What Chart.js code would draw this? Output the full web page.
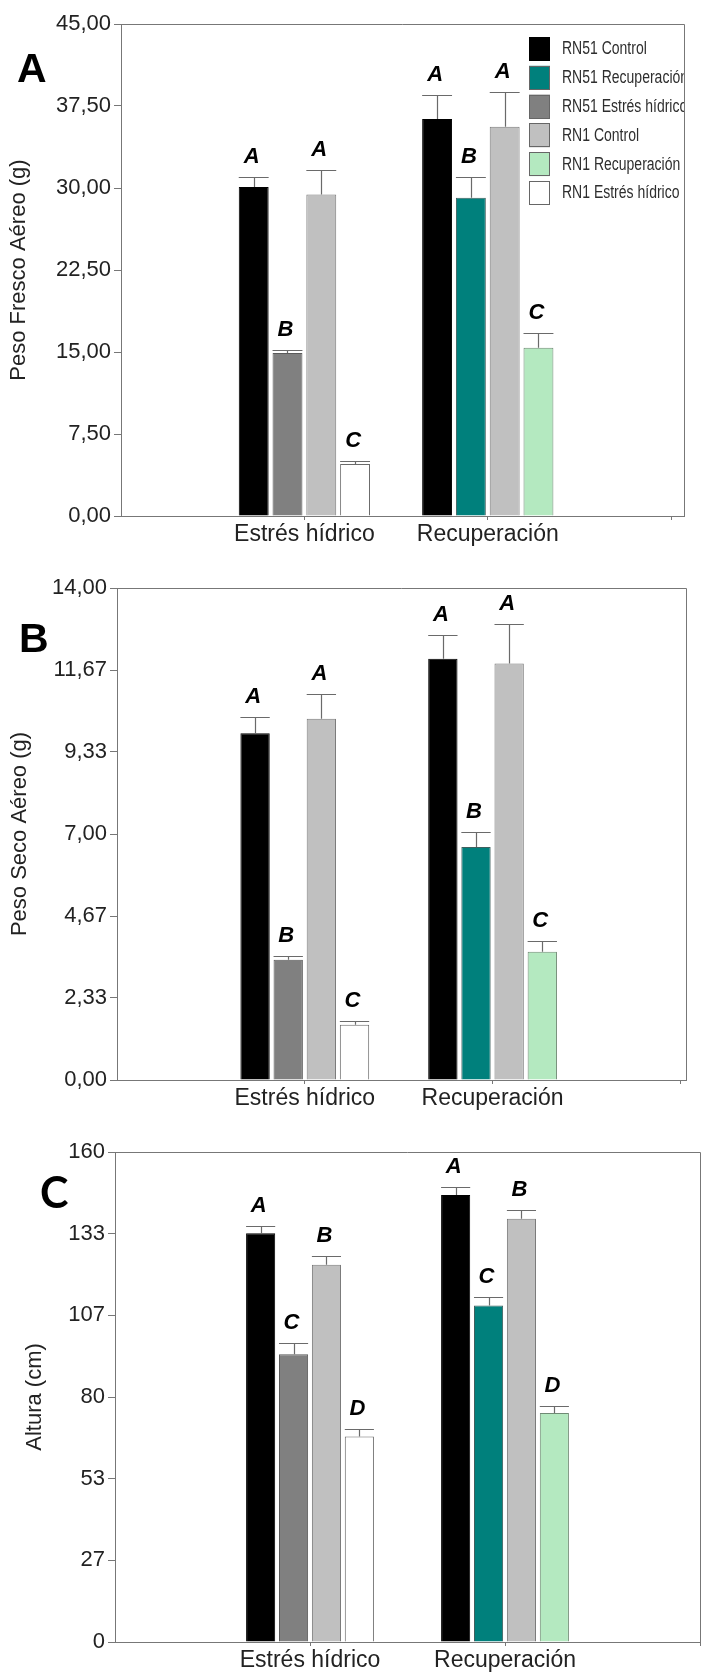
<!DOCTYPE html>
<html lang="es">
<head>
<meta charset="utf-8">
<title>Peso fresco, peso seco y altura</title>
<script src="https://cdn.jsdelivr.net/npm/chart.js@4.4.1/dist/chart.umd.min.js"></script>
<style>
  html, body { margin: 0; padding: 0; background: #fff; }
  body { width: 701px; height: 1675px; position: relative; overflow: hidden; }
  .panel { position: absolute; left: 0; }
  .panel canvas { display: block; }
</style>
</head>
<body>
<div class="panel" style="top:0px"><canvas id="cFresco" width="701" height="560"></canvas></div>
<div class="panel" style="top:560px"><canvas id="cSeco" width="701" height="555"></canvas></div>
<div class="panel" style="top:1115px"><canvas id="cAltura" width="701" height="560"></canvas></div>

<script>
// Tratamientos del eje x y series (genotipo + condición)
const categorias = ['Estrés hídrico', 'Recuperación'];
const series = ['RN51 Control', 'RN51 Recuperación', 'RN51 Estrés hídrico',
                'RN1 Control', 'RN1 Recuperación', 'RN1 Estrés hídrico'];

// Peso fresco aéreo (g): una fila por serie, columnas [Estrés hídrico, Recuperación]
const frescoMedia = [[30.1, 36.3], [null, 29.1], [14.9, null], [29.4, 35.6], [null, 15.4], [4.75, null]];
const frescoError = [[0.9, 2.2], [null, 1.9], [0.3, null], [2.25, 3.2], [null, 1.3], [0.3, null]];
const frescoLetras = [['A', 'A'], [null, 'B'], ['B', null], ['A', 'A'], [null, 'C'], ['C', null]];
const frescoTicks = ['0,00', '7,50', '15,00', '22,50', '30,00', '37,50', '45,00'];

// Peso seco aéreo (g)
const secoMedia = [[9.87, 11.99], [null, 6.63], [3.42, null], [10.28, 11.85], [null, 3.65], [1.57, null]];
const secoError = [[0.47, 0.67], [null, 0.44], [0.1, null], [0.7, 1.13], [null, 0.31], [0.11, null]];
const secoLetras = [['A', 'A'], [null, 'B'], ['B', null], ['A', 'A'], [null, 'C'], ['C', null]];
const secoTicks = ['0,00', '2,33', '4,67', '7,00', '9,33', '11,67', '14,00'];

// Altura (cm)
const alturaMedia = [[133.5, 146.0], [null, 109.9], [94.0, null], [123.2, 138.2], [null, 74.8], [67.1, null]];
const alturaError = [[2.2, 2.5], [null, 2.7], [3.6, null], [2.7, 2.8], [null, 2.4], [2.4, null]];
const alturaLetras = [['A', 'A'], [null, 'C'], ['C', null], ['B', 'B'], [null, 'D'], ['D', null]];
const alturaTicks = ['0', '27', '53', '80', '107', '133', '160'];

// Estilo de las barras por serie
const rellenos = ['#000000', '#00807c', '#808080', '#c0c0c0', '#b4e9c0', '#ffffff'];
const bordes = ['#000000', '#3f5f5e', '#5a5a5a', '#7a7a7a', '#6f8a74', '#6a6a6a'];

const FUENTE = "'Liberation Sans', Arial, Helvetica, sans-serif";
const GRIS_EJE = '#777777';

// Líneas superior y derecha que cierran el área de trazado
const marcoPlugin = {
  id: 'marco',
  afterDraw(chart) {
    const { ctx, chartArea: a } = chart;
    ctx.save();
    ctx.strokeStyle = GRIS_EJE;
    ctx.lineWidth = 1;
    ctx.beginPath();
    ctx.moveTo(a.left, Math.round(a.top) + 0.5);
    ctx.lineTo(Math.round(a.right) + 0.5, Math.round(a.top) + 0.5);
    ctx.lineTo(Math.round(a.right) + 0.5, a.bottom);
    ctx.stroke();
    ctx.restore();
  }
};

// Barras de error (solo hacia arriba) y letras de significancia
const erroresPlugin = {
  id: 'errores',
  afterDatasetsDraw(chart, args, opts) {
    const { ctx } = chart;
    const ys = chart.scales.y;
    ctx.save();
    chart.data.datasets.forEach((ds, d) => {
      const meta = chart.getDatasetMeta(d);
      meta.data.forEach((bar, i) => {
        const v = ds.data[i].y;
        if (v === null || v === undefined) return;
        const { x, y: tope, width } = bar.getProps(['x', 'y', 'width'], true);
        const yErr = Math.round(ys.getPixelForValue(v + ds.errores[i])) + 0.5;
        ctx.strokeStyle = '#6a6a6a';
        ctx.lineWidth = 1.2;
        ctx.beginPath();
        ctx.moveTo(Math.round(x) + 0.5, tope);
        ctx.lineTo(Math.round(x) + 0.5, yErr);
        ctx.moveTo(x - width / 2, yErr);
        ctx.lineTo(x + width / 2, yErr);
        ctx.stroke();
        const letra = ds.letras[i];
        if (letra) {
          ctx.fillStyle = '#000';
          ctx.font = 'italic bold 22px ' + FUENTE;
          ctx.textAlign = 'center';
          ctx.textBaseline = 'alphabetic';
          ctx.fillText(letra, x - 2, yErr - opts.hueco);
        }
      });
    });
    ctx.restore();
  }
};

// Leyenda dentro del área de trazado (recortada por el marco), con texto estrecho
const leyendaPlugin = {
  id: 'leyenda',
  afterDatasetsDraw(chart, args, opts) {
    if (!opts.display) return;
    const { ctx, chartArea: a } = chart;
    ctx.save();
    ctx.beginPath();
    ctx.rect(a.left, a.top, a.right - a.left, a.bottom - a.top);
    ctx.clip();
    const x0 = a.right - 155;
    const y0 = a.top + 13;
    chart.data.datasets.forEach((ds, i) => {
      const y = y0 + i * 28.8;
      ctx.fillStyle = ds.backgroundColor;
      ctx.fillRect(x0, y, 21, 24);
      ctx.strokeStyle = ds.borderColor === '#000000' ? '#000' : '#666';
      ctx.lineWidth = 1;
      ctx.strokeRect(Math.round(x0) + 0.5, Math.round(y) + 0.5, 20, 23);
      ctx.save();
      ctx.translate(x0 + 33, y + 12.5);
      ctx.scale(0.8, 1);
      ctx.font = '17.5px ' + FUENTE;
      ctx.textAlign = 'left';
      ctx.textBaseline = 'middle';
      ctx.fillStyle = '#2e2e2e';
      ctx.fillText(ds.label, 0, 0);
      ctx.restore();
    });
    ctx.restore();
  }
};

// Letra identificadora de cada panel
const rotuloPlugin = {
  id: 'rotulo',
  afterDraw(chart, args, opts) {
    const { ctx } = chart;
    ctx.save();
    ctx.fillStyle = '#000';
    ctx.font = opts.font;
    ctx.textAlign = 'left';
    ctx.textBaseline = 'alphabetic';
    ctx.fillText(opts.texto, opts.x, opts.y);
    ctx.restore();
  }
};

function valorTick(txt) {
  return parseFloat(txt.replace(',', '.'));
}

function crearPanel(cfg) {
  const ymax = valorTick(cfg.ticks[cfg.ticks.length - 1]);
  const n = cfg.ticks.length - 1;
  const datasets = series.map((nombre, s) => ({
    label: nombre,
    data: categorias.map((_, c) => ({ x: c + 1, y: cfg.media[s][c] })),
    errores: categorias.map((_, c) => cfg.error[s][c]),
    letras: categorias.map((_, c) => cfg.letras[s][c]),
    backgroundColor: rellenos[s],
    borderColor: bordes[s],
    borderWidth: 1,
    borderSkipped: 'start'
  }));

  return new Chart(document.getElementById(cfg.canvas), {
    type: 'bar',
    data: { datasets },
    options: {
      responsive: false,
      animation: false,
      events: [],
      layout: {
        autoPadding: false,
        padding: { top: cfg.arriba, right: cfg.derecha, bottom: 0, left: 0 }
      },
      datasets: {
        bar: {
          skipNull: true,
          grouped: true,
          categoryPercentage: cfg.cp,
          barPercentage: 0.885
        }
      },
      plugins: {
        legend: { display: false },
        tooltip: { enabled: false },
        errores: { hueco: 15 },
        leyenda: { display: !!cfg.leyenda },
        rotulo: cfg.rotulo
      },
      scales: {
        x: {
          type: 'linear',
          min: 0,
          max: cfg.xmax,
          offset: false,
          afterFit: s => { s.height = cfg.xAltura; },
          afterBuildTicks: s => {
            s.ticks = [...categorias.map((_, i) => i + 1), categorias.length + 1].map(v => ({ value: v }));
          },
          grid: { display: true, offset: false, drawOnChartArea: false, drawTicks: true, tickLength: 4, color: GRIS_EJE, tickColor: GRIS_EJE },
          border: { display: true, color: GRIS_EJE, width: 1 },
          ticks: {
            callback: v => categorias[v - 1] ?? '',
            font: { family: FUENTE, size: 23 },
            color: '#222',
            padding: 1,
            maxRotation: 0,
            autoSkip: false
          }
        },
        y: {
          type: 'linear',
          min: 0,
          max: ymax,
          afterFit: s => { s.width = cfg.izquierda; },
          afterBuildTicks: s => {
            s.ticks = cfg.ticks.map((_, i) => ({ value: ymax * i / n }));
          },
          grid: { display: true, drawOnChartArea: false, drawTicks: true, tickLength: 7, color: GRIS_EJE, tickColor: GRIS_EJE },
          border: { display: true, color: GRIS_EJE, width: 1 },
          ticks: {
            callback: (v, i) => cfg.ticks[i],
            font: { family: FUENTE, size: 22 },
            color: '#222',
            padding: 3,
            autoSkip: false
          },
          title: {
            display: true,
            text: cfg.titulo,
            font: { family: FUENTE, size: 22 },
            color: '#222',
            padding: { top: cfg.tituloPad, bottom: 0 }
          }
        }
      }
    },
    plugins: [marcoPlugin, erroresPlugin, leyendaPlugin, rotuloPlugin]
  });
}

crearPanel({
  canvas: 'cFresco', media: frescoMedia, error: frescoError, letras: frescoLetras, ticks: frescoTicks,
  titulo: 'Peso Fresco Aéreo (g)', tituloPad: 6,
  arriba: 24, derecha: 17, izquierda: 121, xAltura: 44, xmax: 3.07, cp: 0.737, leyenda: true,
  rotulo: { texto: 'A', x: 17, y: 82, font: 'bold 41px ' + FUENTE }
});

crearPanel({
  canvas: 'cSeco', media: secoMedia, error: secoError, letras: secoLetras, ticks: secoTicks,
  titulo: 'Peso Seco Aéreo (g)', tituloPad: 7,
  arriba: 28, derecha: 15, izquierda: 117, xAltura: 35, xmax: 3.03, cp: 0.706, leyenda: false,
  rotulo: { texto: 'B', x: 19, y: 92, font: 'bold 41px ' + FUENTE }
});

crearPanel({
  canvas: 'cAltura', media: alturaMedia, error: alturaError, letras: alturaLetras, ticks: alturaTicks,
  titulo: 'Altura (cm)', tituloPad: 22,
  arriba: 37, derecha: 1, izquierda: 115, xAltura: 33, xmax: 3.0, cp: 0.675, leyenda: false,
  rotulo: { texto: 'C', x: 40, y: 93, font: "bold 43px Lato, 'Liberation Sans', sans-serif" }
});
</script>
</body>
</html>
